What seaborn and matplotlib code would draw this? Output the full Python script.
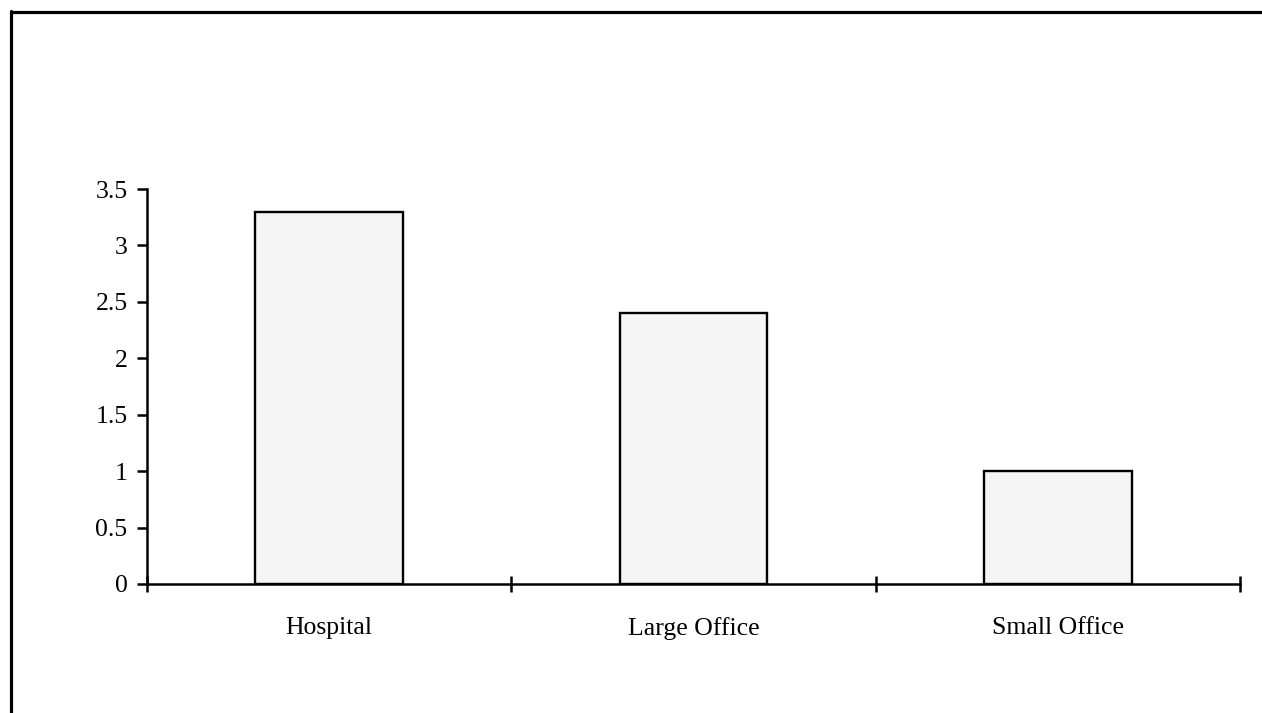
import pandas as pd
import matplotlib.pyplot as plt
import seaborn as sns
from matplotlib.lines import Line2D

categories = ["Hospital", "Large Office", "Small Office"]
values = [3.3, 2.4, 1.0]
y_ticks = [0, 0.5, 1, 1.5, 2, 2.5, 3, 3.5]
y_labels = ["0", "0.5", "1", "1.5", "2", "2.5", "3", "3.5"]

df = pd.DataFrame({"Building": categories, "Value": values})

sns.set_style("white")
plt.rcParams["font.family"] = ["Liberation Serif", "DejaVu Serif"]

fig = plt.figure(figsize=(12.62, 7.13), dpi=100)
ax = fig.add_axes([147 / 1262, 1 - 584 / 713, (1240 - 147) / 1262, (584 - 189) / 713])

sns.barplot(data=df, x="Building", y="Value", ax=ax, color="#f5f5f5",
            saturation=1, edgecolor="black", linewidth=1.7, width=0.405)

ax.set_xlim(-0.5, 2.5)
ax.set_ylim(0, 3.5)
ax.set_xlabel("")
ax.set_ylabel("")

for side in ["top", "right"]:
    ax.spines[side].set_visible(False)
for side in ["left", "bottom"]:
    ax.spines[side].set_linewidth(1.8)
    ax.spines[side].set_color("black")

# boundary ticks on x, labels sit on minor ticks at bar centres
ax.set_xticks([-0.5, 0.5, 1.5, 2.5])
ax.set_xticklabels([])
ax.set_xticks([0, 1, 2], minor=True)
ax.set_xticklabels(categories, minor=True, fontsize=18.5)
ax.tick_params(axis="x", which="major", direction="inout", length=12, width=1.8,
               color="black", bottom=True)
ax.tick_params(axis="x", which="minor", length=0, pad=24, bottom=True, labelcolor="black")

ax.set_yticks(y_ticks)
ax.set_yticklabels(y_labels, fontsize=18.5)
ax.tick_params(axis="y", direction="out", length=7, width=1.8, color="black", pad=7,
               left=True, labelcolor="black")

# frame lines around the figure (left and top only)
fig.add_artist(Line2D([10.5 / 1262, 10.5 / 1262], [0, 1 - 10.5 / 713],
                      transform=fig.transFigure, color="black", linewidth=2.3))
fig.add_artist(Line2D([10.5 / 1262, 1], [1 - 11.5 / 713, 1 - 11.5 / 713],
                      transform=fig.transFigure, color="black", linewidth=2.3))

plt.savefig("out.png", dpi=100)
